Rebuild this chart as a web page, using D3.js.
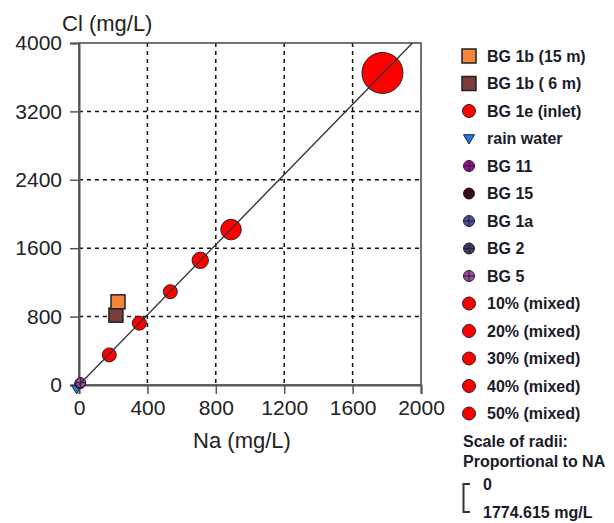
<!DOCTYPE html>
<html>
<head>
<meta charset="utf-8">
<script src="https://cdn.jsdelivr.net/npm/d3@7"></script>
<style>
  body { margin: 0; background: #fff; }
  text { font-family: "Liberation Sans", Arial, sans-serif; }
  .tick text { font-size: 21px; fill: #222; }
  .legend text { font-size: 16px; font-weight: bold; fill: #1a1a2a; }
</style>
</head>
<body>
<div id="chart-area"></div>
<script>
// sample names, in legend order
var samples = ["BG 1b (15 m)", "BG 1b ( 6 m)", "BG 1e (inlet)", "rain water", "BG 11", "BG 15",
    "BG 1a", "BG 2", "BG 5", "10% (mixed)", "20% (mixed)", "30% (mixed)", "40% (mixed)", "50% (mixed)"];
var naValues = [228, 216, 1774.615, -14, 8, 7, 6, 5, 10, 177, 353, 534, 709, 889];
var clValues = [973, 817, 3650, -45, 22, 20, 18, 16, 28, 352, 723, 1091, 1458, 1818];
var symbols = ["square", "square", "circle", "triangle", "cross", "cross", "cross", "cross", "cross",
    "circle", "circle", "circle", "circle", "circle"];
var colors = ["#f5843c", "#7a3c3c", "#ff0000", "#1e7be0", "#9a0a9a", "#4a0020", "#5050a8", "#3a3a6a",
    "#a04aa0", "#ff0000", "#ff0000", "#ff0000", "#ff0000", "#ff0000"];
var xTicks = [0, 400, 800, 1200, 1600, 2000];
var yTicks = [0, 800, 1600, 2400, 3200, 4000];
var mixLine = [[0, 0], [1950, 4000]];
var naMax = 1774.615;

var W = 614, H = 523;
var margin = { left: 79, right: 193, top: 43, bottom: 138 },
    width = W - margin.left - margin.right,
    height = H - margin.top - margin.bottom;

var svg = d3.select("#chart-area")
    .append("svg")
    .attr("width", W)
    .attr("height", H);
var g = svg.append("g")
    .attr("transform", "translate(" + margin.left + "," + margin.top + ")");

var data = samples.map(function(s, i) {
    return { name: s, na: naValues[i], cl: clValues[i], sym: symbols[i], color: colors[i] };
});

// Scales
var x = d3.scaleLinear().domain([0, 2000]).range([0, width]);
var y = d3.scaleLinear().domain([0, 4000]).range([height, 0]);
var r = d3.scaleLinear().domain([0, naMax]).range([0, 20.5]);

// Grid
g.selectAll(".vgrid").data(xTicks.slice(1, -1)).enter().append("line")
    .attr("x1", function(d) { return x(d); }).attr("x2", function(d) { return x(d); })
    .attr("y1", 0).attr("y2", height)
    .attr("stroke", "#111").attr("stroke-width", 1.5).attr("stroke-dasharray", "4,4");
g.selectAll(".hgrid").data(yTicks.slice(1, -1)).enter().append("line")
    .attr("y1", function(d) { return y(d); }).attr("y2", function(d) { return y(d); })
    .attr("x1", 0).attr("x2", width)
    .attr("stroke", "#111").attr("stroke-width", 1.5).attr("stroke-dasharray", "4,4");

// Frame
g.append("rect")
    .attr("width", width).attr("height", height)
    .attr("fill", "none").attr("stroke", "#444").attr("stroke-width", 1.5);

// Axes (major + minor ticks)
var xAxis = g.append("g").attr("transform", "translate(0," + height + ")");
xAxis.call(d3.axisBottom(x).tickValues(d3.range(200, 2000, 400)).tickSize(5).tickFormat(""));
xAxis.call(d3.axisBottom(x).tickValues(xTicks).tickSize(9).tickPadding(6).tickFormat(d3.format("d")));
var yAxis = g.append("g");
yAxis.call(d3.axisLeft(y).tickValues(d3.range(400, 4000, 800)).tickSize(5).tickFormat(""));
yAxis.call(d3.axisLeft(y).tickValues(yTicks).tickSize(9).tickPadding(8).tickFormat(d3.format("d")));
g.selectAll(".domain").attr("stroke", "#555").attr("stroke-width", 2);
g.selectAll(".tick line").attr("stroke", "#555").attr("stroke-width", 1.5);
xAxis.selectAll(".tick text").attr("dy", "0.72em");

// Labels
g.append("text")
    .attr("x", x(1000) - 8).attr("y", height + 63)
    .attr("text-anchor", "middle").attr("font-size", "22px").attr("fill", "#222")
    .text("Na (mg/L)");
g.append("text")
    .attr("x", -17).attr("y", -12)
    .attr("font-size", "22px").attr("fill", "#222")
    .text("Cl (mg/L)");

function drawSymbol(sel, d, size) {
    if (d.sym == "square") {
        sel.append("rect")
            .attr("x", -size).attr("y", -size).attr("width", size * 2).attr("height", size * 2)
            .attr("fill", d.color).attr("stroke", "#222").attr("stroke-width", 1.5);
    } else if (d.sym == "triangle") {
        sel.append("path")
            .attr("d", "M" + (-size) + "," + (-size * 0.7) + "L" + size + "," + (-size * 0.7) + "L0," + size + "Z")
            .attr("fill", d.color).attr("stroke", "#223").attr("stroke-width", 1);
    } else if (d.sym == "cross") {
        sel.append("circle").attr("r", size)
            .attr("fill", d.color).attr("stroke", "#222").attr("stroke-width", 1);
        sel.append("path")
            .attr("d", "M" + (-size) + ",0H" + size + "M0," + (-size) + "V" + size)
            .attr("stroke", "#222").attr("stroke-width", 1);
    } else {
        sel.append("circle").attr("r", size)
            .attr("fill", d.color).attr("stroke", "#222").attr("stroke-width", 1);
    }
}

// Points (small origin samples first, squares on top)
var order = [3, 4, 5, 6, 7, 8, 9, 10, 11, 12, 13, 2, 1, 0];
order.forEach(function(i) {
    var d = data[i];
    var pg = g.append("g")
        .attr("transform", "translate(" + x(d.na) + "," + y(d.cl) + ")");
    var size = d.sym == "square" ? 7 : d.sym == "circle" ? Math.max(7, r(d.na)) : 5;
    drawSymbol(pg, d, size);
});

// Mixing line, drawn over the circles
g.append("path")
    .attr("d", d3.line().x(function(d) { return x(d[0]); }).y(function(d) { return y(d[1]); })(mixLine))
    .attr("stroke", "#333").attr("stroke-width", 1.3).attr("fill", "none");

// Legend
var legend = svg.append("g").attr("class", "legend");
data.forEach(function(d, i) {
    var row = legend.append("g")
        .attr("transform", "translate(469," + (56 + i * 27.5) + ")");
    drawSymbol(row, d, d.sym == "square" ? 7 : d.sym == "circle" ? 6.5 : 5.5);
    row.append("text").attr("x", 18).attr("dy", "0.36em").text(d.name);
});

legend.append("text").attr("x", 463).attr("y", 447).text("Scale of radii:");
legend.append("text").attr("x", 463).attr("y", 467).text("Proportional to NA");
legend.append("path")
    .attr("d", "M470,484H463.5V512H470")
    .attr("fill", "none").attr("stroke", "#333").attr("stroke-width", 2);
legend.append("text").attr("x", 483).attr("y", 490).text("0");
legend.append("text").attr("x", 483).attr("y", 518).text(naMax + " mg/L");
</script>
</body>
</html>
